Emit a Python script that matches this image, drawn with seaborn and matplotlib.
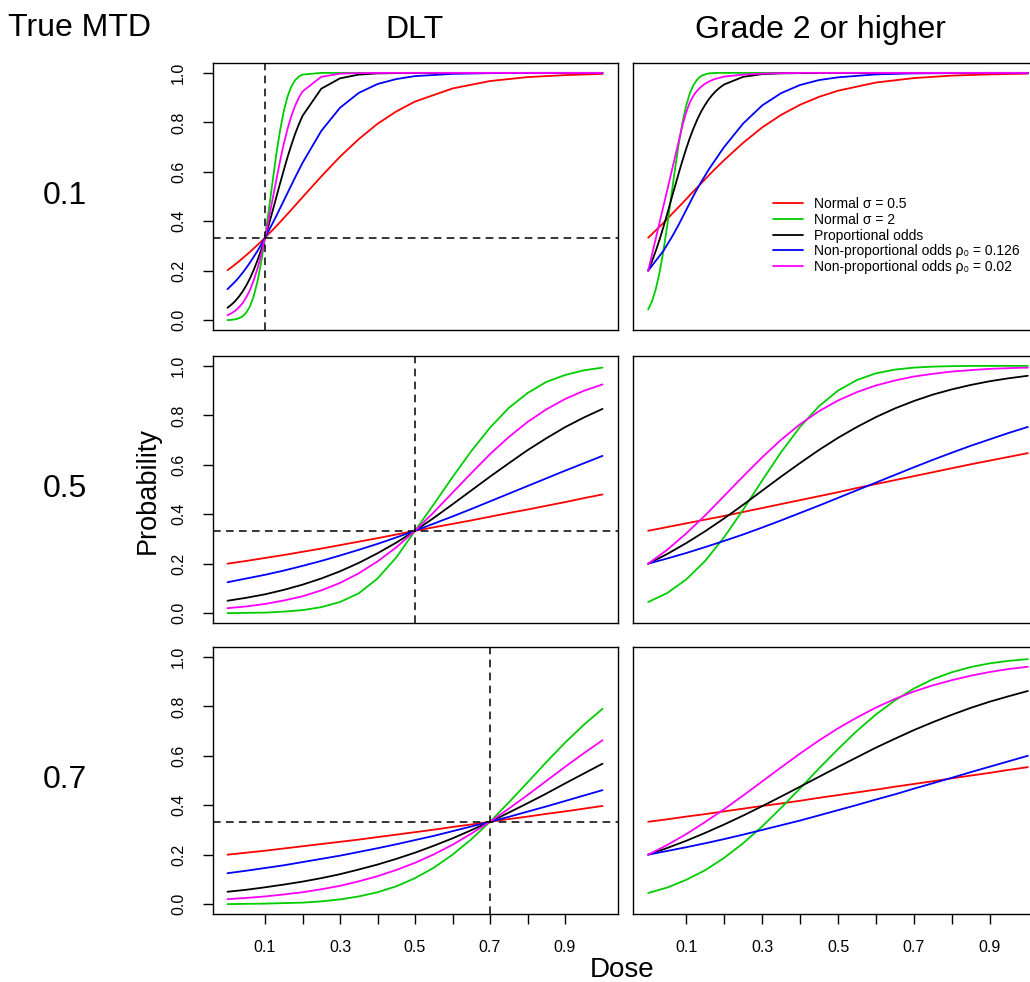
import pandas as pd
import matplotlib
matplotlib.use('Agg')
import matplotlib.pyplot as plt
import seaborn as sns

# Estilo
sns.set_style('ticks')
plt.rcParams['font.family'] = ['Liberation Sans', 'DejaVu Sans']
plt.rcParams['text.color'] = 'black'
plt.rcParams['axes.labelcolor'] = 'black'
plt.rcParams['xtick.color'] = 'black'
plt.rcParams['ytick.color'] = 'black'

# Modelos e cores (ordem da legenda)
models = ['Normal σ = 0.5', 'Normal σ = 2', 'Proportional odds',
          'Non-proportional odds ρ₀ = 0.126', 'Non-proportional odds ρ₀ = 0.02']
colors = ['#FF0000', '#00CD00', '#000000', '#0000FF', '#FF00FF']

mtd_levels = [0.1, 0.5, 0.7]
row_labels = ['0.1', '0.5', '0.7']
col_titles = ['DLT', 'Grade 2 or higher']
target = 1 / 3

# Grade de doses (linha de cima mais fina perto de 0.1)
dose_fine = [0, 0.01, 0.02, 0.03, 0.04, 0.05, 0.06, 0.07, 0.08, 0.09, 0.1,
             0.11, 0.12, 0.13, 0.14, 0.15, 0.16, 0.17, 0.18, 0.19, 0.2,
             0.25, 0.3, 0.35, 0.4, 0.45, 0.5, 0.6, 0.7, 0.8, 0.9, 1.0]
dose = [0, 0.05, 0.1, 0.15, 0.2, 0.25, 0.3, 0.35, 0.4, 0.45, 0.5,
        0.55, 0.6, 0.65, 0.7, 0.75, 0.8, 0.85, 0.9, 0.95, 1.0]

# MTD 0.1 - DLT
dlt1_red = [0.202, 0.213, 0.225, 0.237, 0.250, 0.263, 0.276, 0.290, 0.304, 0.318, 0.333,
            0.349, 0.364, 0.380, 0.396, 0.413, 0.429, 0.446, 0.463, 0.480, 0.497,
            0.581, 0.661, 0.732, 0.794, 0.844, 0.884, 0.937, 0.967, 0.983, 0.991, 0.996]
dlt1_green = [0.000, 0.001, 0.003, 0.007, 0.015, 0.030, 0.056, 0.097, 0.157, 0.236, 0.333,
              0.444, 0.558, 0.669, 0.766, 0.845, 0.904, 0.944, 0.970, 0.985, 0.993,
              1.0, 1.0, 1.0, 1.0, 1.0, 1.0, 1.0, 1.0, 1.0, 1.0, 1.0]
dlt1_black = [0.050, 0.062, 0.076, 0.094, 0.115, 0.140, 0.169, 0.203, 0.242, 0.285, 0.333,
              0.385, 0.440, 0.496, 0.552, 0.606, 0.659, 0.707, 0.752, 0.791, 0.826,
              0.936, 0.978, 0.993, 0.998, 0.999, 1.0, 1.0, 1.0, 1.0, 1.0, 1.0]
dlt1_blue = [0.125, 0.140, 0.155, 0.172, 0.191, 0.211, 0.233, 0.256, 0.280, 0.306, 0.333,
             0.362, 0.391, 0.421, 0.452, 0.483, 0.514, 0.545, 0.576, 0.606, 0.636,
             0.765, 0.859, 0.919, 0.955, 0.975, 0.987, 0.996, 0.999, 1.0, 1.0, 1.0]
dlt1_magenta = [0.020, 0.027, 0.037, 0.051, 0.068, 0.092, 0.122, 0.161, 0.209, 0.266, 0.333,
                0.408, 0.487, 0.566, 0.643, 0.712, 0.773, 0.824, 0.866, 0.899, 0.925,
                0.984, 0.997, 0.999, 1.0, 1.0, 1.0, 1.0, 1.0, 1.0, 1.0, 1.0]

# MTD 0.1 - Grade 2
g2_1_red = [0.333, 0.348, 0.363, 0.378, 0.393, 0.409, 0.425, 0.441, 0.457, 0.473, 0.489,
            0.506, 0.522, 0.538, 0.554, 0.570, 0.586, 0.602, 0.617, 0.632, 0.647,
            0.717, 0.779, 0.830, 0.871, 0.903, 0.928, 0.961, 0.979, 0.989, 0.994, 0.997]
g2_1_green = [0.043, 0.076, 0.125, 0.193, 0.279, 0.381, 0.492, 0.604, 0.708, 0.797, 0.867,
              0.919, 0.953, 0.975, 0.988, 0.994, 0.998, 0.999, 1.0, 1.0, 1.0,
              1.0, 1.0, 1.0, 1.0, 1.0, 1.0, 1.0, 1.0, 1.0, 1.0, 1.0]
g2_1_black = [0.200, 0.238, 0.280, 0.326, 0.376, 0.429, 0.484, 0.538, 0.592, 0.644, 0.693,
              0.738, 0.778, 0.814, 0.845, 0.871, 0.894, 0.913, 0.929, 0.942, 0.953,
              0.984, 0.995, 0.998, 0.999, 1.0, 1.0, 1.0, 1.0, 1.0, 1.0, 1.0]
g2_1_blue = [0.200, 0.220, 0.240, 0.260, 0.280, 0.305, 0.330, 0.357, 0.385, 0.415, 0.445,
             0.475, 0.505, 0.533, 0.560, 0.585, 0.610, 0.633, 0.655, 0.678, 0.700,
             0.795, 0.868, 0.918, 0.951, 0.971, 0.982, 0.994, 0.998, 0.999, 1.0, 1.0]
g2_1_magenta = [0.200, 0.265, 0.330, 0.395, 0.460, 0.525, 0.590, 0.655, 0.720, 0.785, 0.840,
                0.882, 0.910, 0.930, 0.945, 0.956, 0.965, 0.972, 0.977, 0.981, 0.985,
                0.993, 0.997, 0.999, 1.0, 1.0, 1.0, 1.0, 1.0, 1.0, 1.0, 1.0]

# MTD 0.5 - DLT
dlt5_red = [0.200, 0.211, 0.223, 0.235, 0.248, 0.261, 0.275, 0.289, 0.303, 0.318, 0.333,
            0.347, 0.361, 0.375, 0.390, 0.405, 0.419, 0.434, 0.449, 0.465, 0.480]
dlt5_green = [0.000, 0.001, 0.002, 0.006, 0.012, 0.024, 0.045, 0.080, 0.140, 0.225, 0.333,
              0.440, 0.550, 0.655, 0.750, 0.830, 0.890, 0.935, 0.963, 0.982, 0.993]
dlt5_black = [0.050, 0.062, 0.076, 0.094, 0.115, 0.140, 0.169, 0.203, 0.242, 0.285, 0.333,
              0.385, 0.440, 0.496, 0.552, 0.606, 0.659, 0.707, 0.752, 0.791, 0.826]
dlt5_blue = [0.125, 0.140, 0.155, 0.172, 0.191, 0.211, 0.233, 0.256, 0.280, 0.306, 0.333,
             0.362, 0.391, 0.421, 0.452, 0.483, 0.514, 0.545, 0.576, 0.606, 0.636]
dlt5_magenta = [0.020, 0.027, 0.037, 0.051, 0.068, 0.092, 0.122, 0.161, 0.209, 0.266, 0.333,
                0.408, 0.487, 0.566, 0.643, 0.712, 0.773, 0.824, 0.866, 0.899, 0.925]

# MTD 0.5 - Grade 2
g2_5_red = [0.333, 0.348, 0.363, 0.378, 0.393, 0.409, 0.425, 0.441, 0.457, 0.473, 0.489,
            0.506, 0.522, 0.538, 0.554, 0.570, 0.586, 0.602, 0.617, 0.632, 0.647]
g2_5_green = [0.045, 0.081, 0.136, 0.211, 0.307, 0.418, 0.536, 0.651, 0.753, 0.837, 0.900,
              0.943, 0.970, 0.985, 0.993, 0.997, 0.999, 1.0, 1.0, 1.0, 1.0]
g2_5_black = [0.200, 0.239, 0.283, 0.331, 0.383, 0.438, 0.495, 0.552, 0.607, 0.660, 0.709,
              0.753, 0.793, 0.828, 0.858, 0.884, 0.905, 0.923, 0.938, 0.950, 0.960]
g2_5_blue = [0.200, 0.221, 0.243, 0.267, 0.292, 0.318, 0.346, 0.375, 0.405, 0.435, 0.466,
             0.497, 0.528, 0.559, 0.590, 0.620, 0.649, 0.677, 0.703, 0.729, 0.753]
g2_5_magenta = [0.200, 0.256, 0.322, 0.395, 0.474, 0.553, 0.630, 0.701, 0.764, 0.817, 0.860,
                0.894, 0.921, 0.941, 0.957, 0.968, 0.977, 0.983, 0.988, 0.991, 0.993]

# MTD 0.7 - DLT
dlt7_red = [0.200, 0.208, 0.216, 0.225, 0.234, 0.243, 0.252, 0.261, 0.271, 0.281, 0.291,
            0.301, 0.312, 0.322, 0.333, 0.344, 0.354, 0.365, 0.375, 0.386, 0.397]
dlt7_green = [0.000, 0.001, 0.002, 0.004, 0.006, 0.011, 0.019, 0.031, 0.048, 0.072, 0.105,
              0.147, 0.200, 0.262, 0.333, 0.411, 0.492, 0.574, 0.653, 0.725, 0.790]
dlt7_black = [0.050, 0.058, 0.068, 0.079, 0.091, 0.105, 0.121, 0.140, 0.160, 0.183, 0.208,
              0.236, 0.266, 0.299, 0.333, 0.370, 0.408, 0.447, 0.488, 0.528, 0.568]
dlt7_blue = [0.125, 0.135, 0.146, 0.157, 0.170, 0.183, 0.196, 0.211, 0.226, 0.242, 0.259,
             0.276, 0.295, 0.314, 0.333, 0.353, 0.374, 0.395, 0.417, 0.439, 0.461]
dlt7_magenta = [0.020, 0.025, 0.031, 0.039, 0.048, 0.060, 0.074, 0.092, 0.113, 0.138, 0.167,
                0.201, 0.240, 0.285, 0.333, 0.386, 0.441, 0.498, 0.555, 0.610, 0.663]

# MTD 0.7 - Grade 2
g2_7_red = [0.333, 0.343, 0.354, 0.364, 0.375, 0.386, 0.397, 0.407, 0.418, 0.430, 0.441,
            0.452, 0.463, 0.475, 0.486, 0.497, 0.509, 0.520, 0.531, 0.543, 0.554]
g2_7_green = [0.045, 0.067, 0.098, 0.137, 0.187, 0.246, 0.314, 0.389, 0.468, 0.549, 0.627,
              0.701, 0.767, 0.824, 0.872, 0.910, 0.938, 0.959, 0.974, 0.984, 0.991]
g2_7_black = [0.200, 0.227, 0.256, 0.288, 0.322, 0.358, 0.396, 0.435, 0.475, 0.515, 0.555,
              0.594, 0.633, 0.669, 0.704, 0.736, 0.766, 0.794, 0.819, 0.841, 0.862]
g2_7_blue = [0.200, 0.215, 0.230, 0.246, 0.263, 0.281, 0.300, 0.319, 0.338, 0.359, 0.380,
             0.401, 0.423, 0.444, 0.467, 0.489, 0.511, 0.534, 0.556, 0.578, 0.600]
g2_7_magenta = [0.200, 0.239, 0.283, 0.332, 0.384, 0.439, 0.496, 0.553, 0.609, 0.662, 0.711,
                0.755, 0.795, 0.830, 0.860, 0.885, 0.906, 0.924, 0.939, 0.951, 0.960]

panels = [
    [(dose_fine, [dlt1_red, dlt1_green, dlt1_black, dlt1_blue, dlt1_magenta]),
     (dose_fine, [g2_1_red, g2_1_green, g2_1_black, g2_1_blue, g2_1_magenta])],
    [(dose, [dlt5_red, dlt5_green, dlt5_black, dlt5_blue, dlt5_magenta]),
     (dose, [g2_5_red, g2_5_green, g2_5_black, g2_5_blue, g2_5_magenta])],
    [(dose, [dlt7_red, dlt7_green, dlt7_black, dlt7_blue, dlt7_magenta]),
     (dose, [g2_7_red, g2_7_green, g2_7_black, g2_7_blue, g2_7_magenta])],
]


def long_df(x, curves):
    parts = [pd.DataFrame({'dose': x, 'prob': v, 'model': m}) for m, v in zip(models, curves)]
    return pd.concat(parts, ignore_index=True)


W, H = 1030, 982
fig = plt.figure(figsize=(W / 100, H / 100), dpi=100)

col_x = [212.5, 633]
col_w = [405, 410]
row_top = [63, 356, 647]
panel_h = 267

for r in range(3):
    for c in range(2):
        rect = [col_x[c] / W, 1 - (row_top[r] + panel_h) / H, col_w[c] / W, panel_h / H]
        ax = fig.add_axes(rect)
        x, curves = panels[r][c]
        df = long_df(x, curves)
        show_leg = (r == 0 and c == 1)
        sns.lineplot(data=df, x='dose', y='prob', hue='model', hue_order=models,
                     palette=colors, estimator=None, lw=1.3, ax=ax, legend=show_leg)
        if c == 0:
            ax.axhline(target, color='black', ls=(0, (5, 3.5)), lw=1.1)
            ax.axvline(mtd_levels[r], color='black', ls=(0, (5, 3.5)), lw=1.1)

        ax.set_xlim(-0.04, 1.04)
        ax.set_ylim(-0.04, 1.04)
        ax.set_xlabel('')
        ax.set_ylabel('')
        for s in ax.spines.values():
            s.set_visible(True)
            s.set_color('black')
            s.set_linewidth(1.0)

        if c == 0:
            yt = [0.0, 0.2, 0.4, 0.6, 0.8, 1.0]
            ax.set_yticks(yt)
            ax.set_yticklabels([f'{v:.1f}' for v in yt], rotation=90, va='center')
        else:
            ax.set_yticks([])
        if r == 2:
            xt = [0.1, 0.2, 0.3, 0.4, 0.5, 0.6, 0.7, 0.8, 0.9]
            ax.set_xticks(xt)
            ax.set_xticklabels([f'{v:.1f}' if i % 2 == 0 else '' for i, v in enumerate(xt)])
        else:
            ax.set_xticks([])
        ax.tick_params(length=7, width=1, pad=12, labelsize=11.5, colors='black',
                       direction='out')

        if show_leg:
            sns.move_legend(ax, 'upper left', bbox_to_anchor=(0.341, 0.497), title=None,
                            frameon=False, fontsize=10, handlelength=2.2, handletextpad=0.75,
                            labelspacing=0.12, borderpad=0, borderaxespad=0)

# Títulos e rótulos
fig.text(80 / W, 1 - 28 / H, 'True MTD', ha='center', va='center', fontsize=23)
fig.text(415 / W, 1 - 30 / H, col_titles[0], ha='center', va='center', fontsize=23)
fig.text(820 / W, 1 - 30 / H, col_titles[1], ha='center', va='center', fontsize=23)
for r in range(3):
    yc = row_top[r] + panel_h / 2
    fig.text(65 / W, 1 - yc / H, row_labels[r], ha='center', va='center', fontsize=23)
fig.text(148 / W, 1 - 490 / H, 'Probability', ha='center', va='center',
         rotation=90, fontsize=19.5)
fig.text(622 / W, 1 - 970 / H, 'Dose', ha='center', va='center', fontsize=20)

plt.savefig('out.png', dpi=100)
plt.close()
